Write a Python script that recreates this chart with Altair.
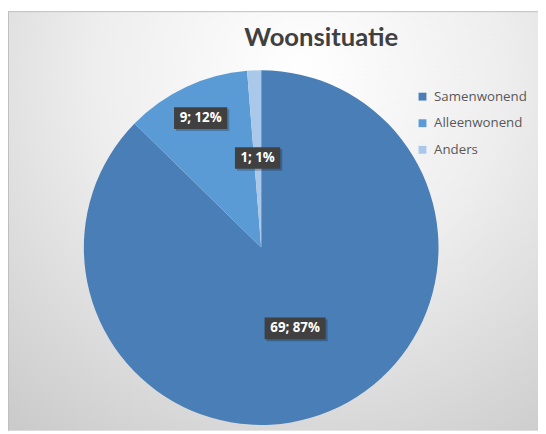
import altair as alt
import pandas as pd

categories = ["Samenwonend", "Alleenwonend", "Anders"]
counts = [69, 9, 1]
percents = [87, 12, 1]
colors = ["#4a7eb6", "#5b9bd5", "#a9c8ea"]
label_radius = [89, 145, 91]   # label distance from pie centre (px)

W, H = 538, 426
CX, CY, R = 257, 240, 180

df = pd.DataFrame({
    "cat": categories,
    "v": counts,
    "pct": percents,
    "idx": list(range(len(categories))),
    "lr": label_radius,
})

base = alt.Chart(df)
one = pd.DataFrame({"a": [0]})

bg = alt.Chart(one).mark_rect(
    color={
        "gradient": "radial",
        "x1": 0.55, "y1": 0.22, "r1": 0.0,
        "x2": 0.55, "y2": 0.22, "r2": 0.85,
        "stops": [
            {"offset": 0, "color": "#ffffff"},
            {"offset": 0.45, "color": "#eeeeee"},
            {"offset": 1, "color": "#cbcbcb"},
        ],
    },
).encode(
    x=alt.value(0), x2=alt.value(W), y=alt.value(0), y2=alt.value(H)
)

top_border = alt.Chart(one).mark_rule(color="#bfbfbf", strokeWidth=1).encode(
    x=alt.value(0), x2=alt.value(W), y=alt.value(0.5)
)
left_border = alt.Chart(one).mark_rule(color="#bfbfbf", strokeWidth=1).encode(
    x=alt.value(0.5), y=alt.value(0), y2=alt.value(H)
)

pie = base.mark_arc(radius=R).encode(
    theta=alt.Theta("v:Q", stack=True),
    order=alt.Order("idx:Q"),
    color=alt.Color(
        "cat:N",
        scale=alt.Scale(domain=categories, range=colors),
        sort=categories,
        legend=alt.Legend(
            title=None,
            orient="none",
            legendX=414,
            legendY=80,
            symbolType="square",
            symbolSize=64,
            symbolStrokeWidth=0,
            labelFontSize=13.5,
            labelFont="Open Sans",
            labelColor="#595959",
            rowPadding=12,
            labelOffset=5,
            padding=0,
        ),
    ),
    x=alt.value(CX),
    y=alt.value(CY),
)

lab = base.transform_joinaggregate(total="sum(v)").transform_window(
    cum="sum(v)", sort=[alt.SortField("idx")]
).transform_calculate(
    mid="(datum.cum - datum.v/2) / datum.total * 2 * PI",
    px=f"{CX} + datum.lr * sin(datum.mid)",
    py=f"{CY} - datum.lr * cos(datum.mid)",
    txt="datum.v + '; ' + datum.pct + '%'",
    hw="length(datum.txt) * 4 + 3",
    x1="datum.px - datum.hw",
    x2="datum.px + datum.hw",
    y1="datum.py - 11",
    y2="datum.py + 11",
    sx1="datum.x1 + 2",
    sx2="datum.x2 + 2",
    sy1="datum.y1 + 2",
    sy2="datum.y2 + 2",
)

shadow = lab.mark_rect(color="#000000", opacity=0.22).encode(
    x=alt.X("sx1:Q", scale=None), x2="sx2:Q",
    y=alt.Y("sy1:Q", scale=None), y2="sy2:Q",
)
box = lab.mark_rect(color="#404040").encode(
    x=alt.X("x1:Q", scale=None), x2="x2:Q",
    y=alt.Y("y1:Q", scale=None), y2="y2:Q",
)
txt = lab.mark_text(
    color="#ffffff", font="Open Sans", fontWeight="bold", fontSize=13.5,
    align="center", baseline="middle",
).encode(
    x=alt.X("px:Q", scale=None),
    y=alt.Y("py:Q", scale=None),
    text="txt:N",
)

title = alt.Chart(pd.DataFrame({"t": ["Woonsituatie"]})).mark_text(
    font="Lato", fontWeight="bold", fontSize=26, color="#404040",
    align="center", baseline="middle",
).encode(x=alt.value(318), y=alt.value(27), text="t:N")

chart = alt.layer(bg, top_border, left_border, pie, shadow, box, txt, title).properties(
    width=W, height=H, autosize=alt.AutoSizeParams(type="none"), padding=0,
).configure_view(stroke=None)

chart.save("out.html", embed_options={"renderer": "svg", "actions": False})
